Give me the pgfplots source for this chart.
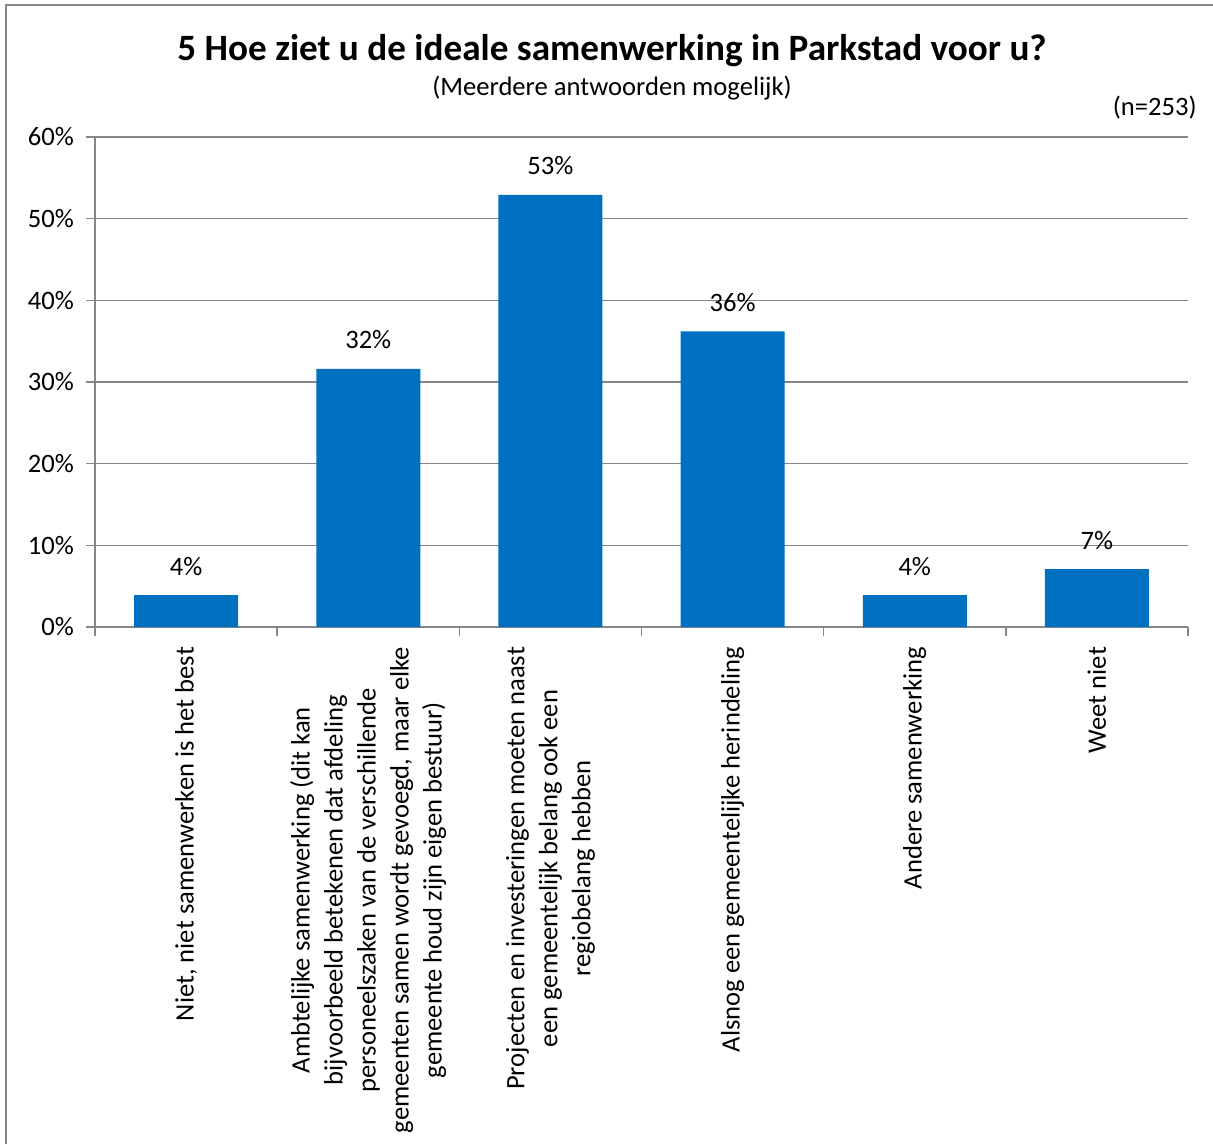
\documentclass[border=0pt]{standalone}
\usepackage{fontspec}
\setmainfont{Carlito}
\usepackage{pgfplots}
\pgfplotsset{compat=1.18}
\definecolor{barblue}{HTML}{0070C0}
\definecolor{linegray}{HTML}{868686}
\newcommand{\lblfont}{\fontsize{13.3}{16.5}\selectfont}

\begin{document}
\begin{tikzpicture}
% frame and titles, laid out in reference pixels (1 px = 0.5 pt)
\begin{scope}[x=0.5pt,y=-0.5pt]
  \useasboundingbox (0,0) rectangle (1213,1144);
  \draw[linegray, line width=1pt] (6,1144) -- (6,5) -- (1213,5);
  \node[anchor=base, inner sep=0, font=\fontsize{18.6}{22}\selectfont\bfseries]
    at (612,61) {5 Hoe ziet u de ideale samenwerking in Parkstad voor u?};
  \node[anchor=base, inner sep=0, font=\lblfont]
    at (612,96) {(Meerdere antwoorden mogelijk)};
  \node[anchor=base east, inner sep=0, font=\lblfont]
    at (1197,116) {(n=253)};
\end{scope}

\begin{axis}[
    at={(47.5pt,-313.5pt)}, anchor=south west,
    scale only axis, width=546.5pt, height=245pt,
    ybar, bar width=52pt,
    xmin=-0.5, xmax=5.5, ymin=0, ymax=60,
    xtick={0,...,5},
    xticklabels={
      {Niet, niet samenwerken is het best},
      {Ambtelijke samenwerking (dit kan\\bijvoorbeeld betekenen dat afdeling\\personeelszaken van de verschillende\\gemeenten samen wordt gevoegd, maar elke\\gemeente houd zijn eigen bestuur)},
      {Projecten en investeringen moeten naast\\een gemeentelijk belang ook een\\regiobelang hebben},
      {Alsnog een gemeentelijke herindeling},
      {Andere samenwerking},
      {Weet niet}},
    minor xtick={-0.5,0.5,...,5.5},
    ytick={0,10,...,60}, minor ytick={0,10,...,60},
    yticklabel={\pgfmathprintnumber{\tick}\%},
    /pgf/number format/assume math mode=true,
    major tick length=0pt, minor tick length=4.5pt, tick align=outside,
    tick style={linegray, line width=0.8pt},
    ymajorgrids, grid style={linegray, line width=0.8pt},
    axis x line*=bottom, axis y line*=left,
    axis line style={linegray, line width=0.8pt, -},
    xticklabel style={rotate=90, anchor=east, align=center, font=\lblfont, xshift=-6.5pt},
    yticklabel style={font=\lblfont, xshift=-7pt},
    nodes near coords={\pgfmathprintnumber[fixed,precision=0]{\pgfplotspointmeta}\%},
    nodes near coords style={font=\lblfont, anchor=base, yshift=10pt, inner sep=0pt},
    clip=false,
]
\addplot[fill=barblue, draw=none] coordinates {
  (0,3.9) (1,31.6) (2,52.9) (3,36.2) (4,3.9) (5,7.1)};
\end{axis}
\end{tikzpicture}
\end{document}
